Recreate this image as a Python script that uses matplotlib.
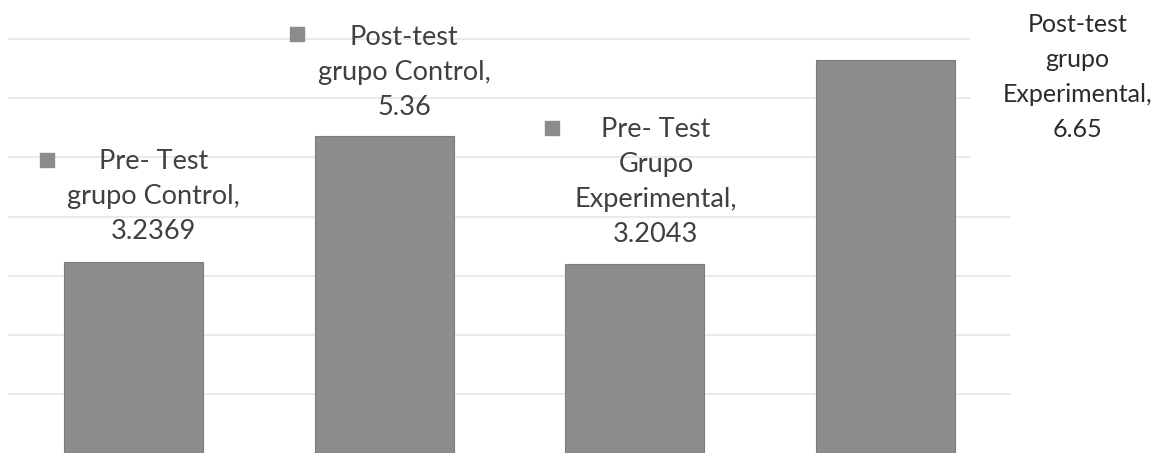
import numpy as np
import matplotlib
matplotlib.use("Agg")
import matplotlib.pyplot as plt
from matplotlib.transforms import offset_copy

# data
categorias = ["Pre- Test\ngrupo Control", "Post-test\ngrupo Control",
              "Pre- Test\nGrupo\nExperimental", "Post-test\ngrupo\nExperimental"]
valores = [3.2369, 5.36, 3.2043, 6.65]
etiquetas = ["3.2369", "5.36", "3.2043", "6.65"]

# label offsets in pixels (dx, dy) from the bar top centre
offs_txt = [(20, 65), (20, 64), (21, 82), (192, -17)]
offs_key = [(-86, 102), (-87, 102), (-83, 136), None]

fig = plt.figure(figsize=(11.59, 4.53), dpi=100)
ax = fig.add_axes([8 / 1159, 0, 1003 / 1159, 1])

x = np.arange(len(valores))
ax.bar(x, valores, width=0.554, color="#8c8c8c", edgecolor="#7c7c7c",
       linewidth=0.8, zorder=2)

ax.set_xlim(-0.5, len(valores) - 0.5)
ax.set_ylim(0, 453 / 59.1)
ax.set_yticks(np.arange(1, 8))
ax.yaxis.grid(True, color="#e6e6e6", linewidth=1.2, zorder=0)
ax.set_axisbelow(True)
ax.tick_params(left=False, bottom=False, labelleft=False, labelbottom=False)
for s in ax.spines.values():
    s.set_visible(False)

for i, v in enumerate(valores):
    txt = categorias[i] + ",\n" + etiquetas[i]
    dx, dy = offs_txt[i]
    kw = {}
    fs = 19.5
    ls = 1.5
    col = "#404040"
    if i == 3:
        fs = 18
        ls = 1.62
        col = "#2b2b2b"
        kw["bbox"] = dict(boxstyle="square,pad=1.3", fc="white", ec="none")
    ax.annotate(txt, xy=(i, v), xytext=(dx, dy), textcoords="offset pixels",
                ha="center", va="center", multialignment="center",
                fontsize=fs, family="Lato", color=col, linespacing=ls,
                annotation_clip=False, zorder=5, **kw)
    if offs_key[i] is not None:
        kx, ky = offs_key[i]
        tr = offset_copy(ax.transData, fig=fig, x=kx, y=ky, units="dots")
        ax.plot(i, v, marker="s", ms=9.5, color="#8c8c8c", mec="#8c8c8c",
                transform=tr, clip_on=False, zorder=5)

fig.savefig("out.png", dpi=100)
